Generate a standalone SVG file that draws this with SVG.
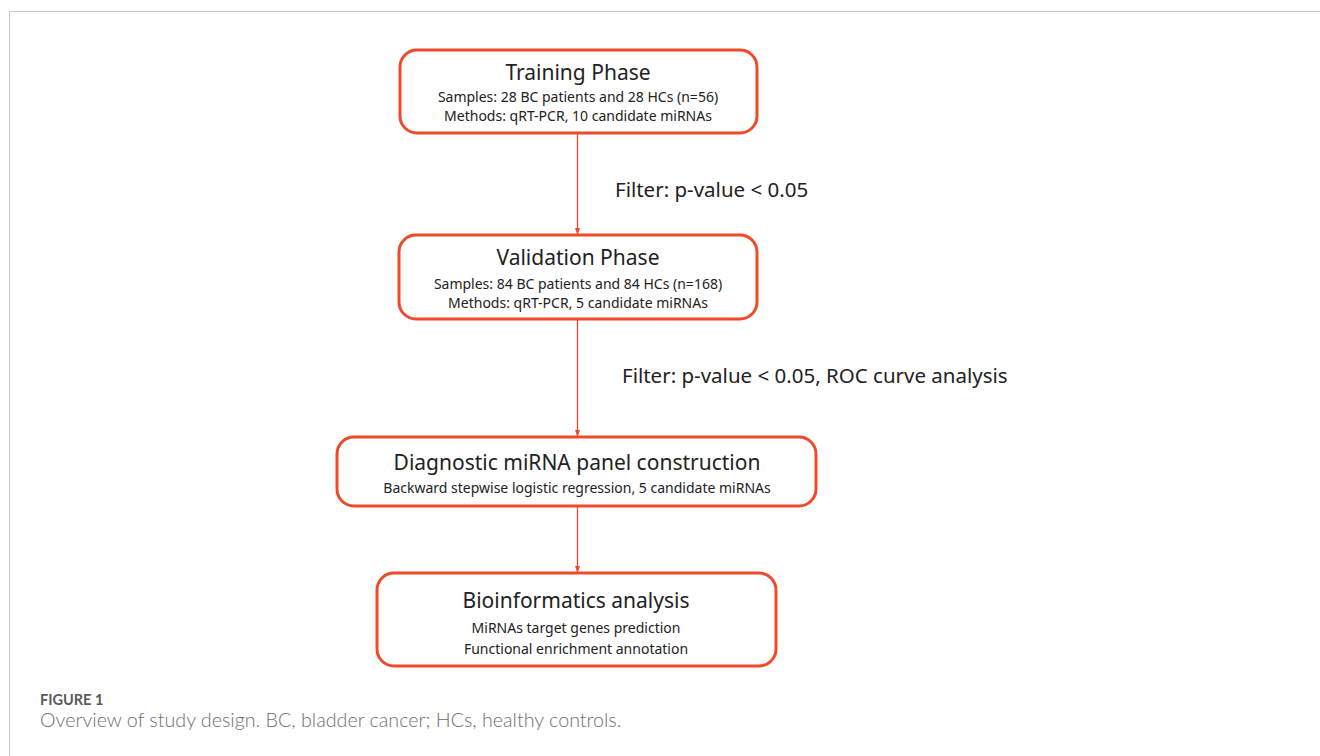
<svg xmlns="http://www.w3.org/2000/svg" width="1320" height="756" viewBox="0 0 1320 756">
<defs>
<style>
.box{fill:#fff;stroke:#f04a2a;stroke-width:3}
.t{font-family:"Noto Sans","Open Sans",sans-serif;fill:#222;text-anchor:middle}
.h{font-size:21px}
.s{font-size:14px}
.f{font-family:"Noto Sans","Open Sans",sans-serif;fill:#222;font-size:20.5px}
.c{stroke:#f04a2a;stroke-width:1.3;fill:none}
</style>
<marker id="ah" markerWidth="7" markerHeight="5" refX="6" refY="2.5" orient="auto" markerUnits="userSpaceOnUse">
<path d="M0,0 L7,2.5 L0,5 Z" fill="#f04a2a"/>
</marker>
</defs>
<rect width="1320" height="756" fill="#fff"/>
<path d="M9.5,756 V11.5 H1320" fill="none" stroke="#c8c8c8" stroke-width="1"/>
<g id="connectors">
<line class="c" x1="577.5" y1="134" x2="577.5" y2="234" marker-end="url(#ah)"/>
<line class="c" x1="577.5" y1="320" x2="577.5" y2="436" marker-end="url(#ah)"/>
<line class="c" x1="577.5" y1="507" x2="577.5" y2="572" marker-end="url(#ah)"/>
<text class="f" x="615" y="197">Filter: p-value &lt; 0.05</text>
<text class="f" x="622" y="383">Filter: p-value &lt; 0.05, ROC curve analysis</text>
</g>
<g id="training">
<rect class="box" x="400" y="50" width="357" height="83" rx="17"/>
<text class="t h" x="578" y="80">Training Phase</text>
<text class="t s" x="578" y="102">Samples: 28 BC patients and 28 HCs (n=56)</text>
<text class="t s" x="578" y="121">Methods: qRT-PCR, 10 candidate miRNAs</text>
</g>
<g id="validation">
<rect class="box" x="399" y="235" width="358" height="84" rx="17"/>
<text class="t h" x="578" y="265">Validation Phase</text>
<text class="t s" x="578" y="289">Samples: 84 BC patients and 84 HCs (n=168)</text>
<text class="t s" x="578" y="308">Methods: qRT-PCR, 5 candidate miRNAs</text>
</g>
<g id="diagnostic">
<rect class="box" x="337" y="437" width="479" height="69" rx="17"/>
<text class="t h" x="577" y="470">Diagnostic miRNA panel construction</text>
<text class="t s" x="577" y="493">Backward stepwise logistic regression, 5 candidate miRNAs</text>
</g>
<g id="bioinformatics">
<rect class="box" x="377" y="573" width="399" height="93" rx="17"/>
<text class="t h" x="576" y="608">Bioinformatics analysis</text>
<text class="t s" x="576" y="633">MiRNAs target genes prediction</text>
<text class="t s" x="576" y="654">Functional enrichment annotation</text>
</g>
<g id="caption">
<text x="40" y="705" font-family="Lato,'Open Sans',sans-serif" font-weight="bold" font-size="14.5" fill="#5a5a5a">FIGURE 1</text>
<text x="40" y="727" font-family="Lato,'Open Sans',sans-serif" font-weight="300" font-size="19.7" fill="#6e6e6e">Overview of study design. BC, bladder cancer; HCs, healthy controls.</text>
</g>
</svg>
